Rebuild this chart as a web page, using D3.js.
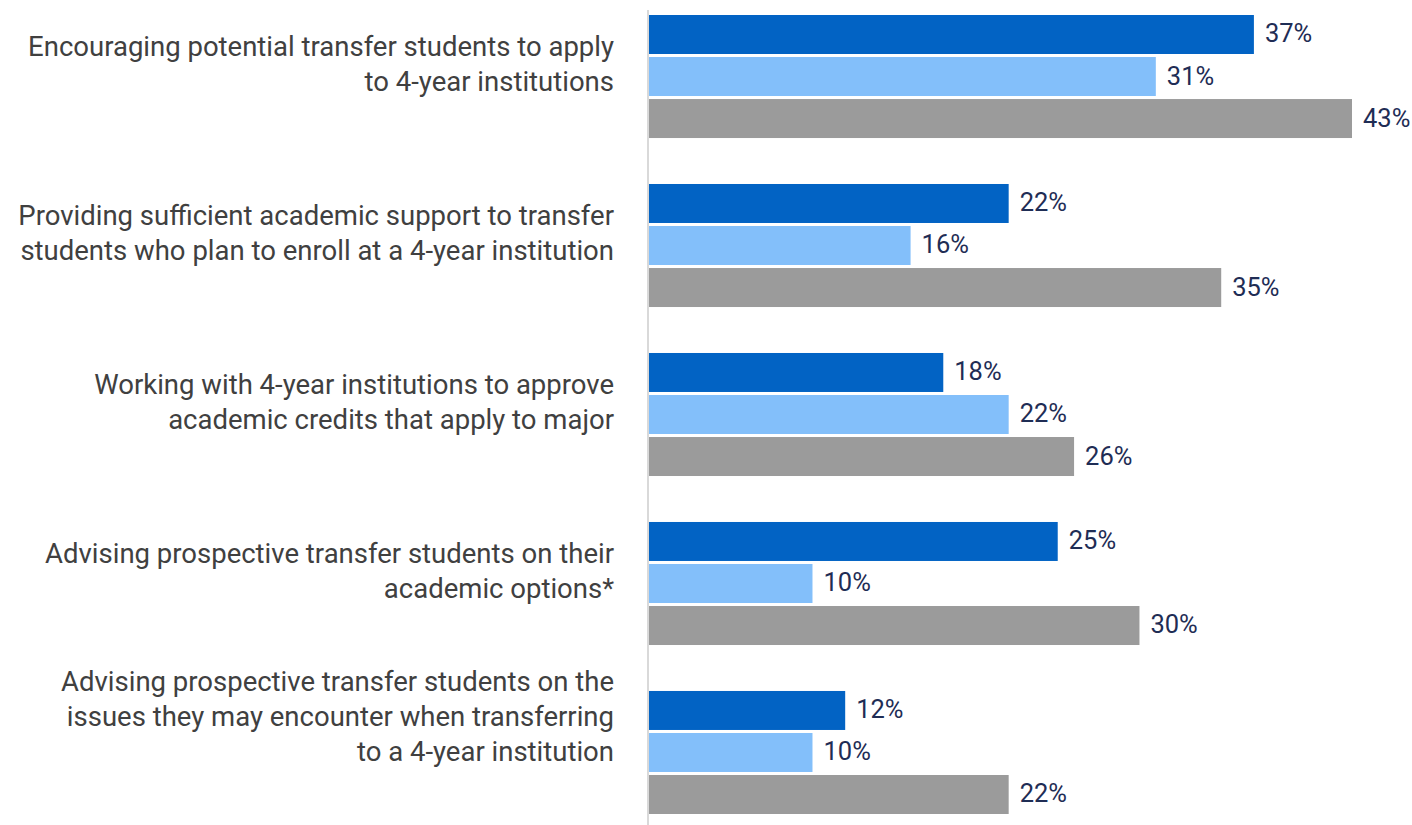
<!DOCTYPE html>
<html>
<head>
<meta charset="utf-8">
<script src="https://cdn.jsdelivr.net/npm/d3@7"></script>
<style>
  body { margin: 0; background: #fff; }
  svg { display: block; }
</style>
</head>
<body>
<div id="chart"></div>
<script>
var width = 1412,
    height = 825;

var categories = [
  ["Encouraging potential transfer students to apply", "to 4-year institutions"],
  ["Providing sufficient academic support to transfer", "students who plan to enroll at a 4-year institution"],
  ["Working with 4-year institutions to approve", "academic credits that apply to major"],
  ["Advising prospective transfer students on their", "academic options*"],
  ["Advising prospective transfer students on the", "issues they may encounter when transferring", "to a 4-year institution"]
];
var series = ["s1", "s2", "s3"];
var values1 = [37, 22, 18, 25, 12];
var values2 = [31, 16, 22, 10, 10];
var values3 = [43, 35, 26, 30, 22];
var colors = ["#0263c4", "#83bffa", "#9b9b9b"];

var allValues = [values1, values2, values3];

var svg = d3.select("#chart").append("svg")
  .attr("width", width)
  .attr("height", height);

var x = d3.scaleLinear().domain([0, 43]).range([649, 1352]);

var y0 = d3.scaleBand()
  .domain(d3.range(categories.length))
  .range([15, 814])
  .paddingInner(0.272)
  .paddingOuter(0);

var y1 = d3.scaleBand()
  .domain(series)
  .range([0, y0.bandwidth()])
  .paddingInner(0.072);

var groups = svg.append("g")
  .selectAll("g")
  .data(categories)
  .enter().append("g")
  .attr("transform", function(d, i) { return "translate(0," + y0(i) + ")"; });

groups.each(function(cat, i) {
  var g = d3.select(this);
  var rows = series.map(function(s, j) { return { s: s, v: allValues[j][i], c: colors[j] }; });

  g.selectAll("rect")
    .data(rows)
    .enter().append("rect")
    .attr("x", x(0))
    .attr("y", function(d) { return y1(d.s); })
    .attr("width", function(d) { return x(d.v) - x(0); })
    .attr("height", y1.bandwidth())
    .attr("fill", function(d) { return d.c; });

  g.selectAll("text.val")
    .data(rows)
    .enter().append("text")
    .attr("class", "val")
    .attr("x", function(d) { return x(d.v) + 11; })
    .attr("y", function(d) { return y1(d.s) + y1.bandwidth() / 2 + 8; })
    .attr("fill", "#1f2d55")
    .style("font-family", "Roboto, 'Noto Sans', sans-serif")
    .style("font-size", "25.5px")
    .text(function(d) { return d.v + "%"; });

  // category label, centred a little above the group
  var n = cat.length, lh = 35;
  var mid = y0.bandwidth() / 2 - 3 - (n - 2) * 23;
  var label = g.append("text")
    .attr("text-anchor", "end")
    .attr("fill", "#404040")
    .style("font-family", "Roboto, 'Noto Sans', sans-serif")
    .style("font-size", "27.5px");
  label.selectAll("tspan")
    .data(cat)
    .enter().append("tspan")
    .attr("x", 614)
    .attr("y", function(d, k) { return mid + (k - (n - 1) / 2) * lh; })
    .text(function(d) { return d; });
});

// axis line
svg.append("line")
  .attr("x1", x(0) - 1).attr("x2", x(0) - 1)
  .attr("y1", 10).attr("y2", height)
  .attr("stroke", "#d9d9d9")
  .attr("stroke-width", 2);
</script>
</body>
</html>
